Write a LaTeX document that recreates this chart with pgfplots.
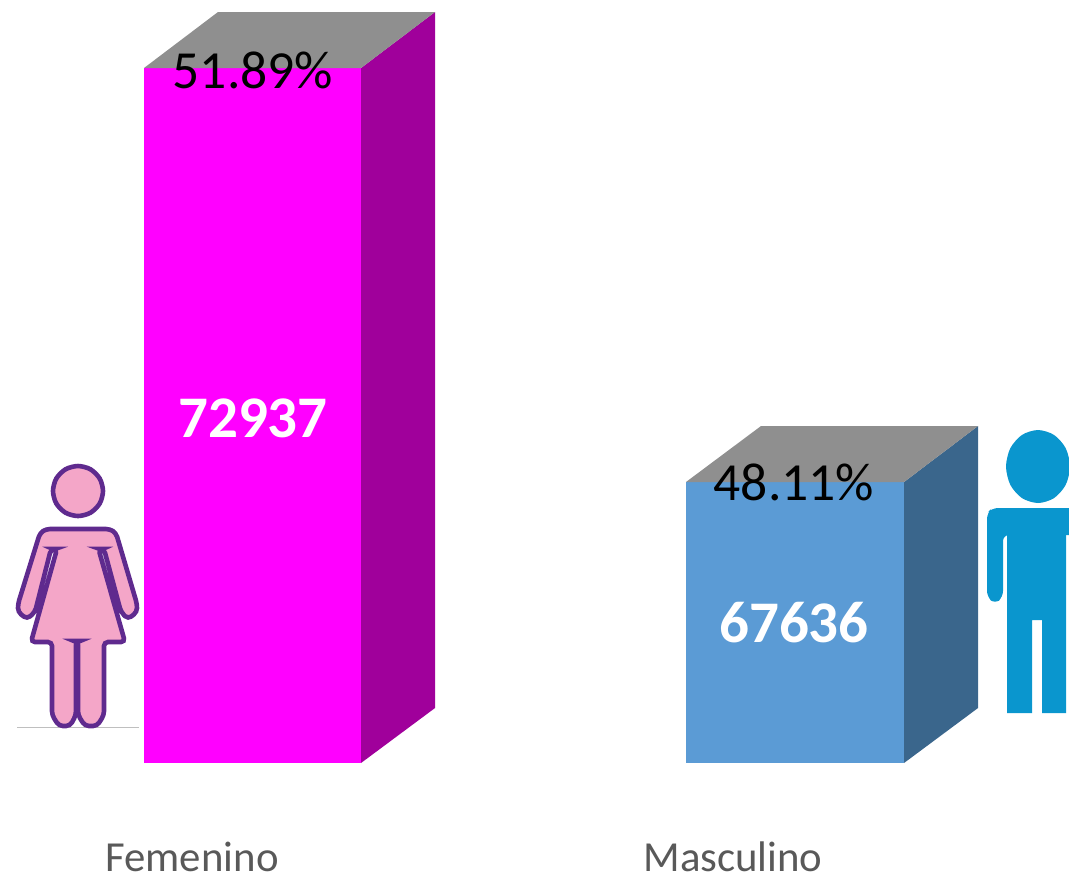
\documentclass[border=0pt]{standalone}
\usepackage{pgfplots}
\pgfplotsset{compat=1.18}
\usepackage{fontspec}
\setmainfont{Carlito}
\definecolor{fem}{HTML}{FF00FF}
\definecolor{femside}{HTML}{A0009B}
\definecolor{mas}{HTML}{5B9BD5}
\definecolor{masside}{HTML}{3A668C}
\definecolor{topgray}{HTML}{8F8F8F}
\definecolor{labgray}{HTML}{595959}
\definecolor{womanfill}{HTML}{F4A6C8}
\definecolor{womanline}{HTML}{5F2A8E}
\definecolor{manfill}{HTML}{0A96CE}
\begin{document}
\begin{tikzpicture}
\begin{axis}[
  scale only axis, width=534.5pt, height=437.5pt,
  xmin=0, xmax=1069, ymin=0, ymax=875, y dir=reverse,
  hide axis,
]
  % keeps the page as large as the whole axis
  \path (axis cs:0,0) rectangle (axis cs:1069,875);
  % 3d bars, in picture pixels
  \addplot[draw=none, fill=fem] coordinates {(144,68) (361,68) (361,763) (144,763)} --cycle;
  \addplot[draw=none, fill=femside] coordinates {(361,68) (435,12) (435,708) (361,763)} --cycle;
  \addplot[draw=none, fill=topgray] coordinates {(144,68) (218,12) (435,12) (361,68)} --cycle;
  \addplot[draw=none, fill=mas] coordinates {(686,482) (904,482) (904,763) (686,763)} --cycle;
  \addplot[draw=none, fill=masside] coordinates {(904,482) (978,426) (978,708) (904,763)} --cycle;
  \addplot[draw=none, fill=topgray] coordinates {(686,482) (761,426) (978,426) (904,482)} --cycle;
  % woman
  \addplot[color=black!25, line width=0.5pt] coordinates {(17,727) (139,727)};
  \addplot[womanline, line width=2.3pt, fill=womanfill, smooth cycle] coordinates {
    (103,491) (99.7,503.5) (90.5,512.7) (78,516) (65.5,512.7) (56.3,503.5)
    (53,491) (56.3,478.5) (65.5,469.3) (78,466) (90.5,469.3) (99.7,478.5)};
  \addplot[womanline, line width=2.3pt, fill=womanfill, rounded corners=2pt] coordinates {
    (46,529) (110,529) (116,533) (137,604) (137,612) (128,619) (121,612)
    (104,549) (98.5,549) (125,642) (104,642) (104,715) (97,726) (85,726) (78,715)
    (78,641) (76,641) (76,715) (70,726) (59,726) (52,715) (52,642)
    (31,642) (57,549) (51,549) (35,612) (27,619) (18,612) (18,604) (40,533)} --cycle;
  % man
  \addplot[draw=none, fill=manfill, smooth cycle] coordinates {
    (1070,466.5) (1065.7,484.8) (1054,498.1) (1038,503) (1022,498.1) (1010.3,484.8)
    (1006,466.5) (1010.3,448.2) (1022,434.9) (1038,430) (1054,434.9) (1065.7,448.2)};
  \addplot[draw=none, fill=manfill] coordinates {
    (1007,530) (1066,530) (1066,713) (1042,713) (1042,620) (1032,620) (1032,713) (1007,713)} --cycle;
  \addplot[draw=none, fill=manfill, rounded corners=3pt] coordinates {
    (987,513) (992,508) (1078,508) (1078,535) (1003,535) (1003,597)
    (995,604) (987,597)} --cycle;
  % labels
  \node[black, font=\fontsize{26.8}{30}\selectfont] at (axis cs:253,70) {51.89\%};
  \node[black, font=\fontsize{26.8}{30}\selectfont] at (axis cs:794,482) {48.11\%};
  \node[white, font=\fontsize{29.5}{32}\selectfont\bfseries] at (axis cs:253,418) {72937};
  \node[white, font=\fontsize{29.5}{32}\selectfont\bfseries] at (axis cs:794,623) {67636};
  \node[labgray, inner sep=0pt, font=\fontsize{21.4}{24}\selectfont] at (axis cs:192,857) {Femenino};
  \node[labgray, inner sep=0pt, font=\fontsize{21.4}{24}\selectfont] at (axis cs:733,857) {Masculino};
\end{axis}
\end{tikzpicture}
\end{document}
